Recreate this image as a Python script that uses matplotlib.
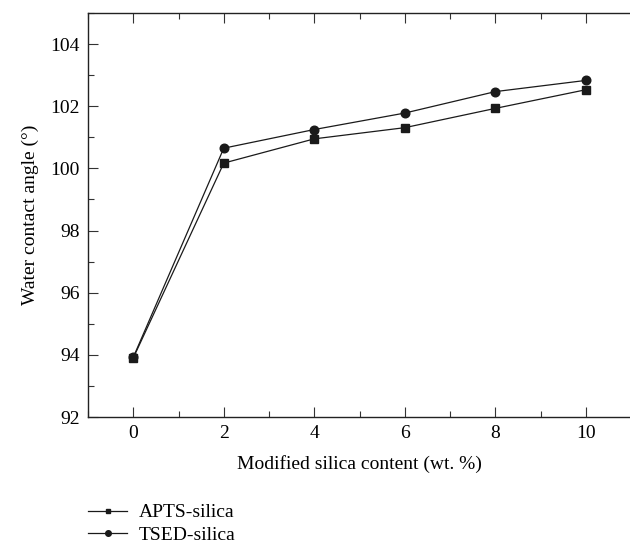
import matplotlib
matplotlib.use('Agg')
import matplotlib.pyplot as plt
from matplotlib.ticker import MultipleLocator

# silica content (wt. %)
content = [0, 2, 4, 6, 8, 10]
# water contact angle (deg)
apts = [93.9, 100.17, 100.95, 101.31, 101.93, 102.53]
tsed = [93.92, 100.65, 101.25, 101.78, 102.47, 102.83]

plt.rcParams['font.family'] = ['Liberation Serif', 'DejaVu Serif']
plt.rcParams['font.size'] = 14

fig = plt.figure(figsize=(6.3, 5.5), dpi=100)
ax = fig.add_axes([0.1397, 0.2418, 0.862, 0.7346])

col = '#1a1a1a'
ax.plot(content, apts, '-s', color=col, linewidth=0.9, markersize=5.5, label='APTS-silica')
ax.plot(content, tsed, '-o', color=col, linewidth=0.9, markersize=6.2, label='TSED-silica')

ax.set_xlim(-1, 11)
ax.set_ylim(92, 105)
ax.xaxis.set_major_locator(MultipleLocator(2))
ax.xaxis.set_minor_locator(MultipleLocator(1))
ax.yaxis.set_major_locator(MultipleLocator(2))
ax.yaxis.set_minor_locator(MultipleLocator(1))
ax.tick_params(which='both', direction='in', top=True, right=False, color='#333333')
ax.tick_params(which='major', length=7, width=0.8, pad=6)
ax.tick_params(which='minor', length=4, width=0.8)
ax.tick_params(axis='x', which='both', labeltop=False)
ax.spines['right'].set_visible(False)
for s in ['left', 'top', 'bottom']:
    ax.spines[s].set_linewidth(1.0)
    ax.spines[s].set_color('#222222')

ax.set_xlabel('Modified silica content (wt. %)', labelpad=9)
ax.set_ylabel('Water contact angle (°)', labelpad=8)

fig.legend(loc='upper left', bbox_to_anchor=(0.128, 0.098), frameon=False,
           handlelength=2.0, handletextpad=0.6, labelspacing=0.25, borderaxespad=0,
           markerscale=0.65)

fig.savefig('out.png', dpi=100)
